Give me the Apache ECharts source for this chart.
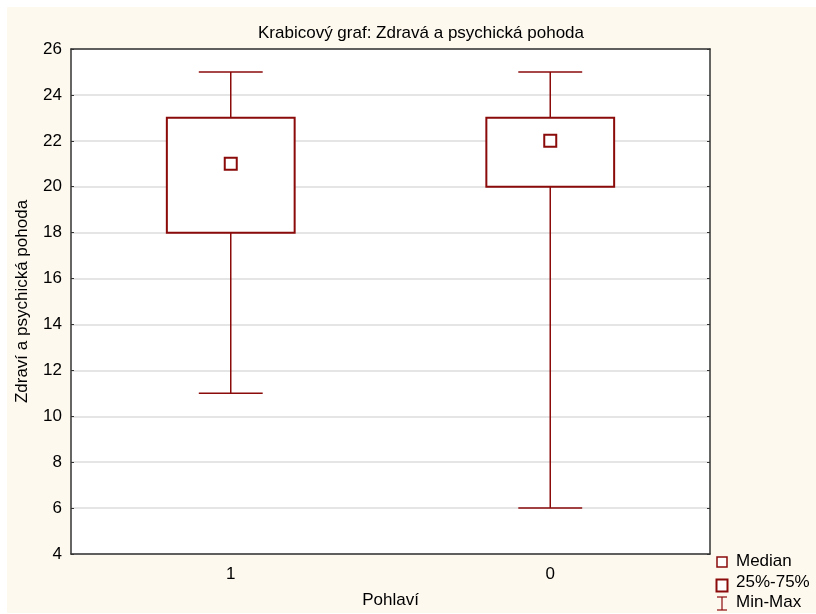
<!DOCTYPE html>
<html>
<head>
<meta charset="utf-8">
<script src="https://cdn.jsdelivr.net/npm/echarts@6/dist/echarts.min.js"></script>
<style>html,body{margin:0;padding:0;background:#fff}#c{width:816px;height:614px}</style>
</head>
<body>
<div id="c"></div>
<script>
const categories = ['1', '0'];
const minVals = [11, 6];
const q1Vals = [18, 20];
const medianVals = [21, 22];
const q3Vals = [23, 23];
const maxVals = [25, 25];
const yTicks = [4, 6, 8, 10, 12, 14, 16, 18, 20, 22, 24, 26];

const RED = '#8B0A0A';
const FONT = 'Liberation Sans, Arial, sans-serif';
const FS = 17;

const seriesData = categories.map((c, i) => [i, minVals[i], q1Vals[i], medianVals[i], q3Vals[i], maxVals[i]]);

const chart = echarts.init(document.getElementById('c'));

function renderBox(params, api) {
  const cat = api.value(0);
  const pMin = api.coord([cat, api.value(1)]);
  const pQ1 = api.coord([cat, api.value(2)]);
  const pMed = api.coord([cat, api.value(3)]);
  const pQ3 = api.coord([cat, api.value(4)]);
  const pMax = api.coord([cat, api.value(5)]);
  const band = api.size([1, 0])[0];
  const boxW = band * 0.4;
  const capW = band * 0.2;
  const x = pMed[0];
  const ms = 12;
  const lineStyle = { stroke: RED, lineWidth: 1.5, fill: null };
  return {
    type: 'group',
    children: [
      { type: 'line', shape: { x1: x, y1: pMax[1], x2: x, y2: pQ3[1] }, style: lineStyle },
      { type: 'line', shape: { x1: x, y1: pQ1[1], x2: x, y2: pMin[1] }, style: lineStyle },
      { type: 'line', shape: { x1: x - capW / 2, y1: pMax[1], x2: x + capW / 2, y2: pMax[1] }, style: lineStyle },
      { type: 'line', shape: { x1: x - capW / 2, y1: pMin[1], x2: x + capW / 2, y2: pMin[1] }, style: lineStyle },
      { type: 'rect', shape: { x: x - boxW / 2, y: pQ3[1], width: boxW, height: pQ1[1] - pQ3[1] }, style: { stroke: RED, lineWidth: 2, fill: '#fff' } },
      { type: 'rect', shape: { x: x - ms / 2, y: pMed[1] - ms / 2, width: ms, height: ms }, style: { stroke: RED, lineWidth: 2, fill: '#fff' } }
    ]
  };
}

const axisLineStyle = { color: '#333', width: 1.5 };

chart.setOption({
  backgroundColor: '#fff',
  animation: false,
  title: {
    text: 'Krabicový graf: Zdravá a psychická pohoda',
    left: 253,
    top: 20,
    textStyle: { fontFamily: FONT, fontSize: FS, fontWeight: 'normal', color: '#000' }
  },
  graphic: [
    { type: 'rect', z: -10, shape: { x: 7, y: 7, width: 809, height: 606 }, style: { fill: '#FEF9EF' } },
    { type: 'rect', z: 100, shape: { x: 0, y: 613, width: 816, height: 1 }, style: { fill: '#fff' } },
    { type: 'rect', shape: { x: 717, y: 557, width: 10, height: 10 }, style: { stroke: RED, lineWidth: 1.5, fill: '#fff' } },
    { type: 'text', left: 736, top: 553, style: { text: 'Median', font: FS + 'px ' + FONT, fill: '#000' } },
    { type: 'rect', shape: { x: 716.5, y: 579.5, width: 11, height: 12 }, style: { stroke: RED, lineWidth: 2, fill: '#fff' } },
    { type: 'text', left: 736, top: 574, style: { text: '25%-75%', font: FS + 'px ' + FONT, fill: '#000' } },
    { type: 'line', shape: { x1: 722, y1: 597, x2: 722, y2: 610 }, style: { stroke: RED, lineWidth: 1.2 } },
    { type: 'line', shape: { x1: 717, y1: 597, x2: 727, y2: 597 }, style: { stroke: RED, lineWidth: 1.2 } },
    { type: 'line', shape: { x1: 717, y1: 610, x2: 727, y2: 610 }, style: { stroke: RED, lineWidth: 1.2 } },
    { type: 'text', left: 736, top: 594, style: { text: 'Min-Max', font: FS + 'px ' + FONT, fill: '#000' } }
  ],
  grid: {
    left: 71, right: 106, top: 49, bottom: 56,
    show: true, backgroundColor: '#fff', borderWidth: 0
  },
  xAxis: [
    {
      type: 'category', data: categories, position: 'bottom',
      name: 'Pohlaví', nameLocation: 'middle', nameGap: 38,
      nameTextStyle: { fontFamily: FONT, fontSize: FS, color: '#000' },
      axisLine: { lineStyle: axisLineStyle },
      axisTick: { inside: true, alignWithLabel: true, length: 4, lineStyle: { color: '#333' } },
      axisLabel: { fontFamily: FONT, fontSize: FS, color: '#000', margin: 12 },
      splitLine: { show: false }
    },
    {
      type: 'category', data: categories, position: 'top',
      axisLine: { lineStyle: axisLineStyle },
      axisTick: { inside: true, alignWithLabel: true, length: 4, lineStyle: { color: '#333' } },
      axisLabel: { show: false }, splitLine: { show: false }
    }
  ],
  yAxis: [
    {
      type: 'value', min: 4, max: 26, interval: 2, position: 'left',
      name: 'Zdraví a psychická pohoda', nameLocation: 'middle', nameGap: 40,
      nameTextStyle: { fontFamily: FONT, fontSize: FS, color: '#000' },
      axisLine: { show: true, lineStyle: axisLineStyle },
      axisTick: { show: true, inside: true, length: 3, lineStyle: { color: '#333' } },
      axisLabel: { fontFamily: FONT, fontSize: FS, color: '#000', margin: 9,
        formatter: v => yTicks.includes(v) ? String(v) : '' },
      splitLine: { show: true, lineStyle: { color: '#DCDCDC', width: 1.5 } }
    },
    {
      type: 'value', min: 4, max: 26, interval: 2, position: 'right',
      axisLine: { show: true, lineStyle: axisLineStyle },
      axisTick: { show: true, inside: true, length: 3, lineStyle: { color: '#333' } },
      axisLabel: { show: false }, splitLine: { show: false }
    }
  ],
  series: [{
    type: 'custom',
    xAxisIndex: 0, yAxisIndex: 0,
    data: seriesData,
    encode: { x: 0, y: [1, 2, 3, 4, 5] },
    renderItem: renderBox,
    z: 5
  }]
});
</script>
</body>
</html>
